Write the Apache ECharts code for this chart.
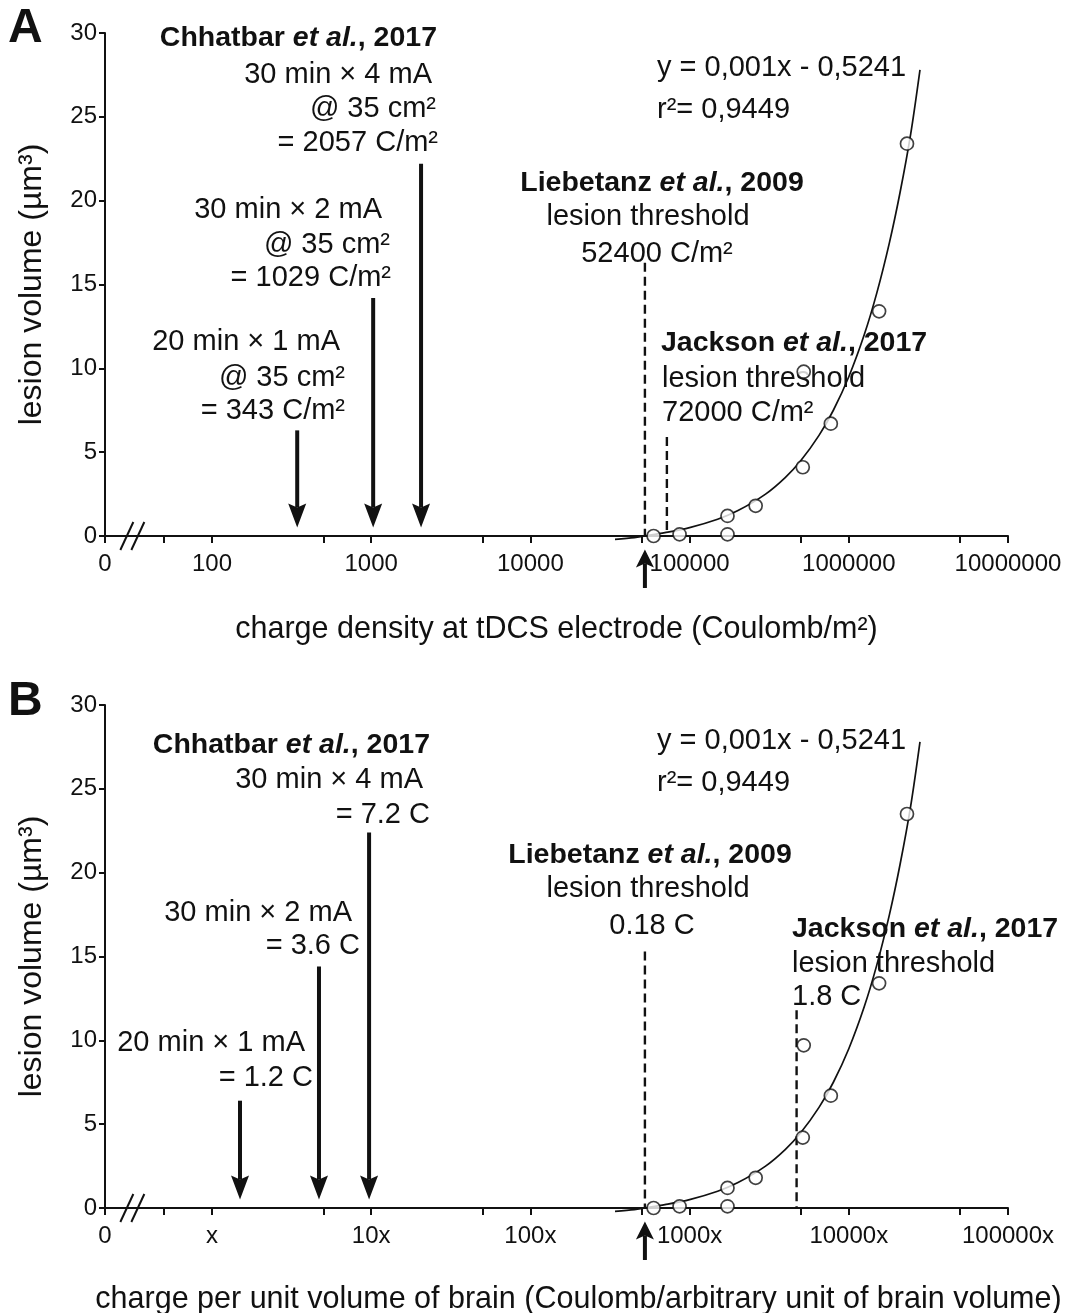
<!DOCTYPE html>
<html><head><meta charset="utf-8">
<script src="https://cdn.jsdelivr.net/npm/echarts@6/dist/echarts.min.js"></script>
<style>html,body{margin:0;padding:0;background:#fff}#c{width:1079px;height:1313px}</style>
</head><body><div id="c"></div>
<script>
// ---------- Panel A: charge density (C/m²) ----------
const pointsAX = [59400, 86500, 173000, 173000, 260000, 514000, 521000, 771000, 1550000, 2320000];
const pointsAY = [0, 0.1, 1.2, 0.1, 1.8, 4.1, 9.8, 6.7, 13.4, 23.4];
const curveAX = [34000, 45000, 52400, 70000, 100000, 150000, 200000, 300000, 400000, 500000, 650000, 800000, 1000000, 1250000, 1500000, 1800000, 2100000, 2450000, 2800000];
const curveAY = [-0.2, -0.1, 0, 0.2, 0.5, 1.0, 1.5, 2.5, 3.5, 4.5, 6.0, 7.5, 9.5, 12.0, 14.5, 17.5, 20.5, 24.0, 27.8];
const arrowsAX = [343, 1029, 2057];
const arrowsATop = [6.3, 14.2, 22.2];
const arrowsABottom = [0.5, 0.5, 0.5];
const thresholdsAX = [52400, 72000];
const thresholdsATop = [16.3, 5.9];
const upArrowAX = [52400];
const ticksA = [50, 100, 500, 1000, 5000, 10000, 50000, 100000, 500000, 1000000, 5000000, 10000000];
const labelsA = [100, 1000, 10000, 100000, 1000000, 10000000];
const xMinA = 21.28, xMaxA = 10000000;
const breakA = [31.6];

// ---------- Panel B: charge per unit volume ----------
const pointsBX = [594, 865, 1730, 1730, 2600, 5140, 5210, 7710, 15500, 23200];
const pointsBY = [0, 0.1, 1.2, 0.1, 1.8, 4.2, 9.7, 6.7, 13.4, 23.5];
const curveBX = [340, 450, 524, 700, 1000, 1500, 2000, 3000, 4000, 5000, 6500, 8000, 10000, 12500, 15000, 18000, 21000, 24500, 28000];
const curveBY = [-0.2, -0.1, 0, 0.2, 0.5, 1.0, 1.5, 2.5, 3.5, 4.5, 6.0, 7.5, 9.5, 12.0, 14.5, 17.5, 20.5, 24.0, 27.8];
const arrowsBX = [1.5, 4.7, 9.7];
const arrowsBTop = [6.4, 14.4, 22.4];
const arrowsBBottom = [0.5, 0.5, 0.5];
const thresholdsBX = [524, 4700];
const thresholdsBTop = [15.3, 11.8];
const upArrowBX = [524];
const ticksB = [0.5, 1, 5, 10, 50, 100, 500, 1000, 5000, 10000, 50000, 100000];
const labelsB = [1, 10, 100, 1000, 10000, 100000];
const xMinB = 0.2128, xMaxB = 100000;
const breakB = [0.316];

const upArrowTop = -3.1, upArrowTip = -0.8;
const FONT = 'Arial, "Liberation Sans", Helvetica, sans-serif';
const INK = '#111';

const chart = echarts.init(document.getElementById('c'), null, {renderer: 'canvas'});

function arrowItem(params, api) {
  const x = api.value(0), ya = api.value(1), yb = api.value(2);
  const p1 = api.coord([x, ya]), p2 = api.coord([x, yb]);
  const dir = p2[1] > p1[1] ? 1 : -1;
  const down = dir === 1;
  const hl = down ? 24 : 18, hw = 9, notch = 4;
  return {type: 'group', children: [
    {type: 'line', shape: {x1: p1[0], y1: p1[1], x2: p2[0], y2: p2[1] - dir * (hl - notch)}, style: {stroke: INK, lineWidth: 4}},
    {type: 'polygon', shape: {points: [[p2[0], p2[1]], [p2[0] - hw, p2[1] - dir * hl], [p2[0], p2[1] - dir * (hl - notch)], [p2[0] + hw, p2[1] - dir * hl]]}, style: {fill: INK}}
  ]};
}
function dashItem(params, api) {
  const x = api.value(0);
  const p1 = api.coord([x, api.value(1)]), p2 = api.coord([x, api.value(2)]);
  return {type: 'line', shape: {x1: p1[0], y1: p1[1], x2: p2[0], y2: p2[1]}, style: {stroke: INK, lineWidth: 2.4, lineDash: [9, 5]}};
}
function breakItem(params, api) {
  const p = api.coord([api.value(0), api.value(1)]);
  return {type: 'group', children: [
    {type: 'line', shape: {x1: p[0] - 12, y1: p[1] + 14, x2: p[0] + 1, y2: p[1] - 14}, style: {stroke: INK, lineWidth: 2}},
    {type: 'line', shape: {x1: p[0] - 1, y1: p[1] + 14, x2: p[0] + 12, y2: p[1] - 14}, style: {stroke: INK, lineWidth: 2}}
  ]};
}

function xAxisFor(idx, min, max, ticks, labels, fmt, name, nameGap, namePad) {
  return {
    type: 'log', logBase: 10, gridIndex: idx, min: min, max: max,
    name: name, nameLocation: 'middle', nameGap: nameGap,
    nameTextStyle: {fontFamily: FONT, fontSize: 30.5, color: INK, padding: namePad},
    axisLine: {onZero: false, lineStyle: {color: INK, width: 2}},
    axisTick: {show: true, length: 7, lineStyle: {color: INK, width: 2}, customValues: [min].concat(ticks)},
    axisLabel: {fontFamily: FONT, fontSize: 24, color: INK, margin: 16, customValues: [min].concat(labels), formatter: fmt},
    splitLine: {show: false}, minorTick: {show: false}
  };
}
function yAxisFor(idx) {
  return {
    type: 'value', gridIndex: idx, min: 0, max: 30, interval: 5,
    name: 'lesion volume (µm³)', nameLocation: 'middle', nameGap: 57, nameRotate: 90,
    nameTextStyle: {fontFamily: FONT, fontSize: 32, color: INK},
    axisLine: {show: true, onZero: false, lineStyle: {color: INK, width: 2}},
    axisTick: {show: true, length: 6, lineStyle: {color: INK, width: 2}},
    axisLabel: {fontFamily: FONT, fontSize: 24, color: INK, margin: 8},
    splitLine: {show: false}
  };
}
const fmtA = v => (v < 30 ? '0' : String(Math.round(v)));
const fmtB = v => (v < 0.5 ? '0' : (Math.round(v) === 1 ? 'x' : Math.round(v) + 'x'));

function zip(a, b) { return a.map((v, i) => [v, b[i]]); }
function zip3(a, b, c) { return a.map((v, i) => [v, b[i], c[i]]); }

function seriesFor(idx, px, py, cx, cy, ax, at, ab, tx, tt, ux, br) {
  return [
    {type: 'line', xAxisIndex: idx, yAxisIndex: idx, data: zip(cx, cy), showSymbol: false, smooth: 0.3, clip: false,
     lineStyle: {color: INK, width: 1.7}, z: 4, silent: true},
    {type: 'custom', xAxisIndex: idx, yAxisIndex: idx, data: zip3(tx, tt, tx.map(() => 0)), renderItem: dashItem, encode: {x: 0, y: [1, 2]}, z: 3, silent: true},
    {type: 'custom', xAxisIndex: idx, yAxisIndex: idx, data: zip3(ax, at, ab), renderItem: arrowItem, encode: {x: 0, y: [1, 2]}, z: 5, silent: true},
    {type: 'custom', xAxisIndex: idx, yAxisIndex: idx, data: ux.map(v => [v, upArrowTop, upArrowTip]), renderItem: arrowItem, encode: {x: 0, y: [1, 2]}, z: 5, silent: true, clip: false},
    {type: 'custom', xAxisIndex: idx, yAxisIndex: idx, data: br.map(v => [v, 0]), renderItem: breakItem, encode: {x: 0, y: 1}, z: 6, silent: true},
    {type: 'scatter', xAxisIndex: idx, yAxisIndex: idx, data: zip(px, py), symbol: 'circle', symbolSize: 13,
     itemStyle: {color: '#fff', borderColor: INK, borderWidth: 1.7}, z: 8, silent: true}
  ];
}

// ---------- annotation texts ----------
const richStyle = {
  b: {fontFamily: FONT, fontSize: 28.5, fontWeight: 'bold', fill: INK, color: INK},
  bi: {fontFamily: FONT, fontSize: 28.5, fontWeight: 'bold', fontStyle: 'italic', fill: INK, color: INK}
};
function txt(s, x, y, align) {
  return {type: 'text', z: 1, style: {text: s, x: x, y: y, fill: INK, font: '29px ' + FONT,
    align: align, textAlign: align, verticalAlign: 'middle', textVerticalAlign: 'middle'}};
}
function btxt(author, year, x, y, align) {
  return {type: 'text', z: 1, style: {text: '{b|' + author + ' }{bi|et al.}{b|, ' + year + '}', rich: richStyle,
    x: x, y: y, fill: INK, font: 'bold 28.5px ' + FONT, align: align, textAlign: align, verticalAlign: 'middle', textVerticalAlign: 'middle'}};
}

const graphics = [
  {type: 'text', z: 1, style: {text: 'A', x: 8, y: 29, font: 'bold 48px ' + FONT, fill: INK, verticalAlign: 'middle', textVerticalAlign: 'middle'}},
  {type: 'text', z: 1, style: {text: 'B', x: 8, y: 702, font: 'bold 48px ' + FONT, fill: INK, verticalAlign: 'middle', textVerticalAlign: 'middle'}},
  // Panel A
  btxt('Chhatbar', '2017', 437, 38, 'right'),
  txt('30 min × 4 mA', 432, 75, 'right'),
  txt('@ 35 cm²', 436, 109, 'right'),
  txt('= 2057 C/m²', 438, 143, 'right'),
  txt('30 min × 2 mA', 382, 210, 'right'),
  txt('@ 35 cm²', 390, 245, 'right'),
  txt('= 1029 C/m²', 391, 278, 'right'),
  txt('20 min × 1 mA', 340, 342, 'right'),
  txt('@ 35 cm²', 345, 378, 'right'),
  txt('= 343 C/m²', 345, 411, 'right'),
  btxt('Liebetanz', '2009', 662, 183, 'center'),
  txt('lesion threshold', 648, 217, 'center'),
  txt('52400 C/m²', 657, 254, 'center'),
  txt('y = 0,001x - 0,5241', 657, 68, 'left'),
  txt('r²= 0,9449', 657, 110, 'left'),
  btxt('Jackson', '2017', 661, 343, 'left'),
  txt('lesion threshold', 662, 379, 'left'),
  txt('72000 C/m²', 662, 413, 'left'),
  // Panel B
  btxt('Chhatbar', '2017', 430, 745, 'right'),
  txt('30 min × 4 mA', 423, 780, 'right'),
  txt('= 7.2 C', 430, 815, 'right'),
  txt('30 min × 2 mA', 352, 913, 'right'),
  txt('= 3.6 C', 360, 946, 'right'),
  txt('20 min × 1 mA', 305, 1043, 'right'),
  txt('= 1.2 C', 313, 1078, 'right'),
  btxt('Liebetanz', '2009', 650, 855, 'center'),
  txt('lesion threshold', 648, 889, 'center'),
  txt('0.18 C', 652, 926, 'center'),
  txt('y = 0,001x - 0,5241', 657, 741, 'left'),
  txt('r²= 0,9449', 657, 783, 'left'),
  btxt('Jackson', '2017', 792, 929, 'left'),
  txt('lesion threshold', 792, 964, 'left'),
  txt('1.8 C', 792, 997, 'left')
];

const option = {
  animation: false,
  backgroundColor: '#fff',
  textStyle: {fontFamily: FONT},
  grid: [
    {left: 105, top: 33, width: 903, height: 503, containLabel: false, outerBoundsMode: 'none'},
    {left: 105, top: 705, width: 903, height: 503, containLabel: false, outerBoundsMode: 'none'}
  ],
  xAxis: [
    xAxisFor(0, xMinA, xMaxA, ticksA, labelsA, fmtA, 'charge density at tDCS electrode (Coulomb/m²)', 78, [0, 0, 0, 0]),
    xAxisFor(1, xMinB, xMaxB, ticksB, labelsB, fmtB, 'charge per unit volume of brain (Coulomb/arbitrary unit of brain volume)', 76, [0, 0, 0, 44])
  ],
  yAxis: [yAxisFor(0), yAxisFor(1)],
  series: [].concat(
    seriesFor(0, pointsAX, pointsAY, curveAX, curveAY, arrowsAX, arrowsATop, arrowsABottom, thresholdsAX, thresholdsATop, upArrowAX, breakA),
    seriesFor(1, pointsBX, pointsBY, curveBX, curveBY, arrowsBX, arrowsBTop, arrowsBBottom, thresholdsBX, thresholdsBTop, upArrowBX, breakB)
  ),
  graphic: graphics
};
chart.setOption(option);
</script>
</body></html>
